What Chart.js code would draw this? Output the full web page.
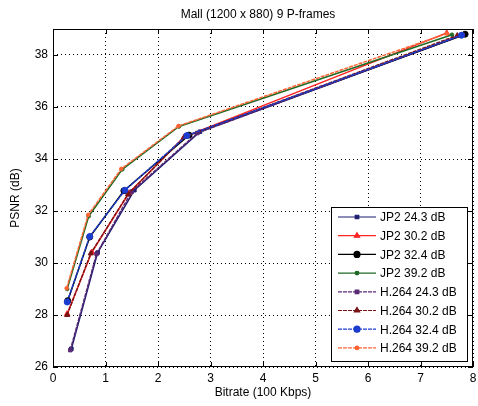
<!DOCTYPE html>
<html lang="en">
<head>
    <meta charset="UTF-8">
    <title>Mall (1200 x 880) 9 P-frames</title>
    <script src="https://cdn.jsdelivr.net/npm/chart.js@4.4.1/dist/chart.umd.min.js"></script>
    <style>
        body { margin: 0; background: #fff; }
        #chart { display: block; }
    </style>
</head>
<body>
    <canvas id="chart" width="478" height="406"></canvas>

    <script>
        // bitrate in units of 100 Kbps, PSNR in dB
        const xTicks = [0, 1, 2, 3, 4, 5, 6, 7, 8];
        const yTicks = [26, 28, 30, 32, 34, 36, 38];

        const seriesNames = ['JP2 24.3 dB', 'JP2 30.2 dB', 'JP2 32.4 dB', 'JP2 39.2 dB',
                             'H.264 24.3 dB', 'H.264 30.2 dB', 'H.264 32.4 dB', 'H.264 39.2 dB'];

        const jp2_243_rate = [0.35, 0.85, 1.55, 2.80, 7.85];
        const jp2_243_psnr = [26.70, 30.40, 32.80, 35.05, 38.80];
        const jp2_302_rate = [0.27, 0.74, 1.45, 2.50, 7.50];
        const jp2_302_psnr = [28.05, 30.42, 32.70, 34.85, 38.85];
        const jp2_324_rate = [0.28, 0.70, 1.35, 2.59, 7.85];
        const jp2_324_psnr = [28.55, 31.00, 32.78, 34.92, 38.80];
        const jp2_392_rate = [0.27, 0.68, 1.32, 2.40, 7.60];
        const jp2_392_psnr = [29.00, 31.80, 33.60, 35.25, 38.78];

        const h264_243_rate = [0.33, 0.83, 1.50, 2.75, 7.80];
        const h264_243_psnr = [26.65, 30.35, 32.75, 35.00, 38.78];
        const h264_302_rate = [0.27, 0.72, 1.43, 2.50, 7.70];
        const h264_302_psnr = [28.00, 30.37, 32.65, 34.85, 38.75];
        const h264_324_rate = [0.27, 0.70, 1.37, 2.55, 7.78];
        const h264_324_psnr = [28.50, 31.02, 32.80, 34.90, 38.76];
        const h264_392_rate = [0.26, 0.67, 1.30, 2.39, 7.50];
        const h264_392_psnr = [29.03, 31.85, 33.62, 35.27, 38.82];

        const pts = (xs, ys) => xs.map((x, i) => ({ x: x, y: ys[i] }));

        const styles = [
            { color: '#1c1c72', point: 'rect',     r: 2.5, dash: [] },
            { color: '#ff2424', point: 'triangle', r: 3,   dash: [] },
            { color: '#000000', point: 'circle',   r: 3,   dash: [] },
            { color: '#1e6a24', point: 'circle',   r: 1.8, dash: [] },
            { color: '#5a2a74', point: 'rect',     r: 2.5, dash: [4, 1] },
            { color: '#7a1414', point: 'triangle', r: 3,   dash: [4, 1] },
            { color: '#1c3cd0', point: 'circle',   r: 3,   dash: [4, 1] },
            { color: '#ff6434', point: 'circle',   r: 1.8, dash: [4, 1] }
        ];

        const seriesData = [
            pts(jp2_243_rate, jp2_243_psnr), pts(jp2_302_rate, jp2_302_psnr),
            pts(jp2_324_rate, jp2_324_psnr), pts(jp2_392_rate, jp2_392_psnr),
            pts(h264_243_rate, h264_243_psnr), pts(h264_302_rate, h264_302_psnr),
            pts(h264_324_rate, h264_324_psnr), pts(h264_392_rate, h264_392_psnr)
        ];

        const datasets = seriesNames.map((name, i) => ({
            label: name,
            data: seriesData[i],
            borderColor: styles[i].color,
            backgroundColor: styles[i].color,
            borderWidth: 1.5,
            borderDash: styles[i].dash,
            pointStyle: styles[i].point,
            pointRadius: styles[i].r,
            pointBorderWidth: 1,
            tension: 0,
            order: seriesNames.length - i   // later series drawn on top, like matlab
        }));

        // matlab style box, inward ticks, title and legend
        const matlabAxes = {
            id: 'matlabAxes',
            afterDraw(chart) {
                const ctx = chart.ctx;
                const a = chart.chartArea;
                const sx = chart.scales.x, sy = chart.scales.y;
                ctx.save();
                ctx.strokeStyle = '#000';
                ctx.lineWidth = 1;
                ctx.setLineDash([]);
                ctx.strokeRect(a.left + 0.5, a.top + 0.5, a.right - a.left - 1, a.bottom - a.top - 1);
                ctx.beginPath();
                xTicks.forEach(v => {
                    const px = Math.round(sx.getPixelForValue(v)) + 0.5;
                    ctx.moveTo(px, a.bottom); ctx.lineTo(px, a.bottom - 5);
                    ctx.moveTo(px, a.top); ctx.lineTo(px, a.top + 5);
                });
                yTicks.forEach(v => {
                    const py = Math.round(sy.getPixelForValue(v)) + 0.5;
                    ctx.moveTo(a.left, py); ctx.lineTo(a.left + 5, py);
                    ctx.moveTo(a.right, py); ctx.lineTo(a.right - 5, py);
                });
                ctx.stroke();

                ctx.fillStyle = '#000';
                ctx.font = '12px "Liberation Sans", Arial, sans-serif';
                ctx.textAlign = 'center';
                ctx.textBaseline = 'middle';
                ctx.fillText('Mall (1200 x 880) 9 P-frames', 258, 15);

                // legend
                const lx = 331, ly = 207, lw = 136, lh = 154;
                ctx.fillStyle = '#fff';
                ctx.fillRect(lx, ly, lw, lh);
                ctx.strokeRect(lx + 0.5, ly + 0.5, lw, lh);
                ctx.textAlign = 'left';
                seriesNames.forEach((name, i) => {
                    const y = ly + 10 + i * 18.7;
                    const st = styles[i];
                    ctx.strokeStyle = st.color;
                    ctx.lineWidth = 1.2;
                    ctx.setLineDash(st.dash);
                    ctx.beginPath();
                    ctx.moveTo(338, y); ctx.lineTo(376, y);
                    ctx.stroke();
                    ctx.setLineDash([]);
                    Chart.helpers.drawPoint(ctx, {
                        pointStyle: st.point, radius: st.r, borderWidth: 1, rotation: 0
                    }, 357, y);
                    ctx.fillStyle = st.color;
                    ctx.fill();
                    ctx.fillStyle = '#000';
                    ctx.fillText(name, 380, y + 1);
                });
                ctx.restore();
            }
        };

        new Chart(document.getElementById('chart'), {
            type: 'line',
            data: { datasets: datasets },
            options: {
                responsive: false,
                animation: false,
                layout: { padding: { top: 29, right: 4, left: 0, bottom: 0 } },
                plugins: {
                    legend: { display: false },
                    tooltip: { enabled: false }
                },
                scales: {
                    x: {
                        type: 'linear',
                        min: 0, max: 8,
                        afterFit: s => { s.height = 39; s.paddingLeft = 0; s.paddingRight = 0; },
                        ticks: { stepSize: 1, padding: 4, color: '#000',
                                 font: { family: '"Liberation Sans", Arial', size: 12 } },
                        grid: { color: '#000', drawTicks: false, lineWidth: 1 },
                        border: { display: false, dash: [1, 3] },
                        title: { display: true, text: 'Bitrate (100 Kbps)', color: '#000',
                                 font: { family: '"Liberation Sans", Arial', size: 12 },
                                 padding: { top: 0, bottom: 6 } }
                    },
                    y: {
                        type: 'linear',
                        min: 26, max: 39,
                        afterFit: s => { s.width = 53; s.paddingTop = 0; s.paddingBottom = 0; },
                        ticks: { stepSize: 2, includeBounds: false, padding: 5, color: '#000',
                                 font: { family: '"Liberation Sans", Arial', size: 12 } },
                        grid: { color: '#000', drawTicks: false, lineWidth: 1 },
                        border: { display: false, dash: [1, 3] },
                        title: { display: true, text: 'PSNR (dB)', color: '#000',
                                 font: { family: '"Liberation Sans", Arial', size: 12 },
                                 padding: { top: 8, bottom: 0 } }
                    }
                }
            },
            plugins: [matlabAxes]
        });
    </script>
</body>
</html>
